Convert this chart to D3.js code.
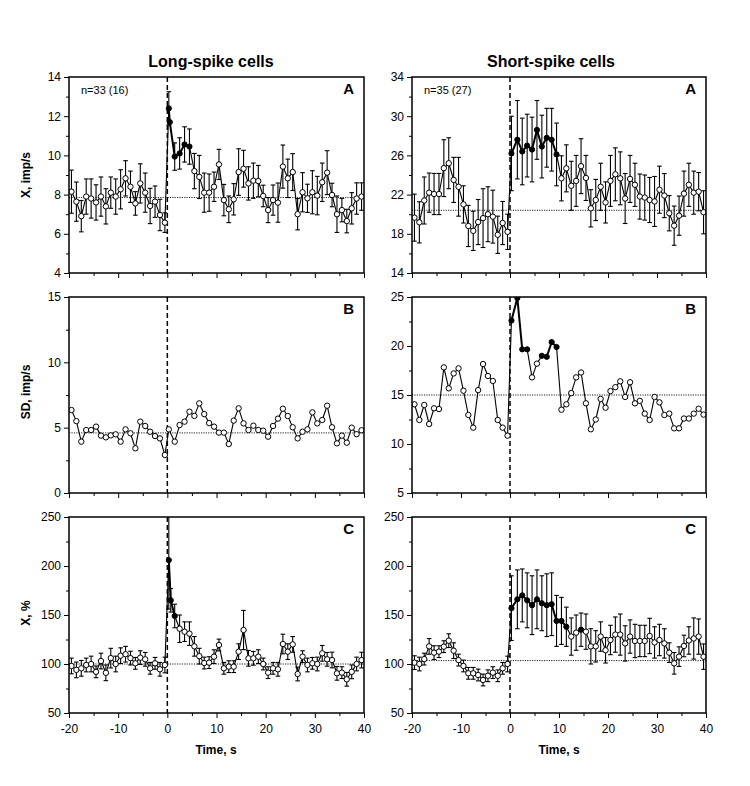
<!DOCTYPE html>
<html>
<head>
<meta charset="utf-8">
<script src="https://cdn.jsdelivr.net/npm/d3@7"></script>
<style>
  body { margin: 0; background: #fff; }
  text { font-family: Arial, "Liberation Sans", sans-serif; fill: #000; }
</style>
</head>
<body>
<svg id="fig" width="750" height="786"></svg>
<script>
// time bins (s) shared by every panel: 20 before the stimulus, 40 after
const timeBins = [-19.5, -18.5, -17.5, -16.5, -15.5, -14.5, -13.5, -12.5, -11.5, -10.5,
  -9.5, -8.5, -7.5, -6.5, -5.5, -4.5, -3.5, -2.5, -1.5, -0.5,
  0.3, 1.5, 2.5, 3.5, 4.5, 5.5, 6.5, 7.5, 8.5, 9.5,
  10.5, 11.5, 12.5, 13.5, 14.5, 15.5, 16.5, 17.5, 18.5, 19.5,
  20.5, 21.5, 22.5, 23.5, 24.5, 25.5, 26.5, 27.5, 28.5, 29.5,
  30.5, 31.5, 32.5, 33.5, 34.5, 35.5, 36.5, 37.5, 38.5, 39.5];

// A, long-spike: mean rate (imp/s) and error
const leftAMean = [8.15, 7.64, 6.9, 7.9, 7.8, 7.6, 7.9, 7.4, 8.1, 7.9,
  8.27, 8.83, 8.4, 7.55, 8.57, 8.1, 7.42, 7.64, 6.96, 6.57,
  12.4, 9.94, 10.1, 10.56, 10.45, 9.2, 8.9, 8.1, 8.1, 8.4,
  9.54, 7.72, 7.25, 7.76, 9.15, 9.32, 8.57, 8.71, 8.69, 7.93,
  7.21, 7.72, 7.59, 9.43, 8.83, 9.15, 7.0, 8.12, 7.81, 8.12,
  7.95, 8.63, 9.12, 7.98, 7.0, 7.21, 6.65, 7.3, 7.8, 7.9];
const leftAErr = [1.1, 1.0, 0.8, 0.9, 1.0, 0.9, 1.0, 0.9, 0.8, 0.9,
  1.0, 0.9, 0.8, 0.6, 1.0, 1.0, 0.9, 0.8, 0.8, 0.5,
  0.85, 0.7, 0.8, 0.9, 0.9, 0.9, 1.1, 1.0, 0.95, 0.75,
  0.77, 0.8, 0.68, 0.8, 1.19, 0.94, 0.85, 0.9, 0.8, 0.55,
  0.64, 0.77, 1.0, 1.1, 0.98, 0.94, 0.8, 1.0, 0.72, 1.1,
  0.98, 0.98, 1.12, 0.6, 0.93, 0.6, 0.6, 0.8, 0.8, 0.7];
const leftAExtra = [{ t: 0.5, v: 11.7, e: 0 }];
const leftAFilled = [0.3, 0.5, 1.5, 2.5, 3.5, 4.5];

// A, short-spike
const rightAMean = [19.65, 19.17, 21.4, 22.2, 22.06, 22.06, 24.7, 25.2, 23.5, 22.8,
  21.0, 18.8, 18.3, 19.2, 19.6, 20.0, 19.75, 17.9, 19.1, 18.2,
  26.2, 27.6, 26.4, 27.0, 26.6, 28.6, 26.9, 27.8, 27.6, 26.1,
  23.66, 24.68, 22.9, 23.4, 24.9, 23.7, 20.6, 21.45, 22.8, 21.2,
  23.4, 24.07, 23.66, 21.6, 23.6, 23.0, 21.8, 21.7, 21.45, 21.3,
  22.5, 21.9, 20.1, 18.83, 19.85, 22.1, 23.0, 22.2, 22.3, 20.2];
const rightAErr = [2.4, 2.1, 2.4, 2.0, 2.1, 2.1, 2.9, 2.6, 2.3, 3.0,
  1.9, 2.1, 2.0, 2.3, 3.0, 2.8, 2.7, 1.9, 2.2, 1.8,
  3.8, 4.0, 3.4, 3.2, 3.3, 3.0, 3.2, 3.0, 3.2, 3.2,
  2.3, 2.4, 2.5, 2.6, 2.8, 2.3, 1.9, 2.1, 2.4, 2.1,
  2.6, 2.7, 2.7, 2.55, 2.4, 2.2, 2.3, 2.3, 2.3, 2.55,
  2.4, 2.25, 1.8, 2.0, 2.0, 2.3, 2.2, 2.2, 1.95, 2.2];
const rightAFilled = [0.3, 1.5, 2.5, 3.5, 4.5, 5.5, 6.5, 7.5, 8.5, 9.5];

// B, long-spike: SD (imp/s)
const leftBMean = [6.35, 5.5, 3.93, 4.82, 4.82, 5.08, 4.39, 4.26, 4.41, 4.49,
  3.93, 4.87, 4.57, 3.42, 5.46, 5.13, 4.69, 4.36, 4.18, 2.91,
  4.87, 3.93, 5.2, 5.46, 6.22, 5.9, 6.86, 6.04, 5.35, 5.08,
  4.62, 4.62, 3.75, 5.54, 6.48, 5.33, 4.82, 5.15, 4.82, 4.77,
  4.31, 5.13, 5.69, 6.45, 5.89, 5.03, 4.18, 4.69, 4.87, 6.17,
  5.33, 5.59, 6.68, 5.03, 3.8, 4.39, 3.85, 5.0, 4.5, 4.8];

// B, short-spike
const rightBMean = [14.05, 12.45, 13.98, 12.04, 13.64, 13.57, 17.82, 15.68, 17.2, 17.72,
  15.44, 12.96, 11.67, 15.5, 18.16, 16.94, 16.43, 12.45, 11.67, 10.85,
  22.6, 24.9, 19.66, 19.66, 16.8, 18.2, 19.0, 18.9, 20.4, 19.9,
  13.5, 14.05, 15.2, 16.8, 17.3, 14.15, 11.5, 12.5, 14.6, 13.7,
  15.4, 15.8, 16.4, 14.8, 16.3, 14.15, 14.4, 13.1, 12.45, 14.8,
  14.25, 12.96, 13.1, 11.6, 11.6, 12.6, 12.6, 13.1, 13.6, 13.0];
const rightBFilled = [0.3, 1.5, 2.5, 3.5, 6.5, 7.5, 8.5, 9.5];

// C, long-spike: rate as % of baseline
const leftCMean = [98, 94, 95.6, 99, 100, 92, 103, 91, 106, 100,
  108.5, 110, 106, 100.7, 106.5, 104.8, 95.6, 100.7, 94.6, 99,
  206, 149, 136, 133, 131, 118, 108, 101, 101.4, 107.5,
  119.4, 95.6, 97.3, 97.3, 112.6, 134.7, 105.8, 105.8, 107.5, 100,
  91.2, 95.6, 94.6, 120.4, 112.6, 120, 89.8, 107.5, 99, 100.7,
  100, 110.9, 104.8, 104.1, 90.5, 91.2, 84.4, 92, 100, 104];
const leftCErr = [8, 8, 8, 7, 8, 6, 8, 8, 10, 8,
  8, 8, 7, 6, 7, 7, 6, 6, 7, 8,
  50, 12, 14, 10, 12, 10, 8, 6, 6, 7,
  6, 6, 6, 6, 8, 20, 8, 7, 7, 6,
  6, 6, 7, 10, 8, 8, 7, 6, 7, 6,
  7, 8, 7, 8, 7, 6, 7, 7, 7, 8];
const leftCExtra = [{ t: 0.7, v: 165, e: 12 }];
const leftCFilled = [0.3, 0.7, 1.5];

// C, short-spike
const rightCMean = [101.4, 100, 105, 118, 111.6, 112.6, 117.7, 123.8, 113.6, 104,
  98, 90.5, 90.5, 88.8, 83.7, 88, 91.2, 88, 95.6, 100,
  157, 166, 170, 165, 160, 166, 162, 160, 161, 144,
  144, 138, 128, 132, 135, 133, 118, 118, 128, 114,
  124.5, 130, 130, 121, 128, 123.5, 123.5, 123.5, 128.6, 122,
  124.5, 121, 111.6, 100.7, 107.5, 118.4, 124, 126, 128, 107.5];
const rightCErr = [7, 7, 6, 8, 7, 6, 6, 7, 8, 6,
  6, 6, 6, 6, 6, 6, 6, 6, 6, 8,
  33, 30, 27, 28, 30, 30, 28, 32, 32, 26,
  24, 20, 19, 18, 17, 18, 18, 16, 15, 13,
  15, 18, 21, 18, 17, 17, 16, 16, 18, 16,
  16, 15, 10, 11, 10, 11, 14, 21, 18, 13];
const rightCFilled = [0.3, 1.5, 2.5, 3.5, 4.5, 5.5, 6.5, 7.5, 8.5, 9.5, 10.5, 11.5, 14.5];

// axis ticks
const timeMajor = [-20, -10, 0, 10, 20, 30, 40];
const timeMinor = [-15, -5, 5, 15, 25, 35];
const leftATicks = [4, 6, 8, 10, 12, 14];
const rightATicks = [14, 18, 22, 26, 30, 34];
const leftBTicks = [0, 5, 10, 15];
const rightBTicks = [5, 10, 15, 20, 25];
const cTicks = [50, 100, 150, 200, 250];

const baselines = { leftA: 7.85, rightA: 20.4, leftB: 4.6, rightB: 15.0, leftC: 100, rightC: 103.5 };

const colX = [[69, 364], [412, 706]];
const rowY = [[77, 273], [297, 493], [517, 713]];

const panels = [
  { col: 0, row: 0, mean: leftAMean, err: leftAErr, extra: leftAExtra, filled: leftAFilled,
    domain: [4, 14], ticks: leftATicks, minor: 1, base: baselines.leftA, letter: "A", note: "n=33 (16)" },
  { col: 1, row: 0, mean: rightAMean, err: rightAErr, extra: [], filled: rightAFilled,
    domain: [14, 34], ticks: rightATicks, minor: 2, base: baselines.rightA, letter: "A", note: "n=35 (27)" },
  { col: 0, row: 1, mean: leftBMean, err: null, extra: [], filled: [],
    domain: [0, 15], ticks: leftBTicks, minor: 2.5, base: baselines.leftB, letter: "B" },
  { col: 1, row: 1, mean: rightBMean, err: null, extra: [], filled: rightBFilled,
    domain: [5, 25], ticks: rightBTicks, minor: 2.5, base: baselines.rightB, letter: "B" },
  { col: 0, row: 2, mean: leftCMean, err: leftCErr, extra: leftCExtra, filled: leftCFilled,
    domain: [50, 250], ticks: cTicks, minor: 25, base: baselines.leftC, letter: "C" },
  { col: 1, row: 2, mean: rightCMean, err: rightCErr, extra: [], filled: rightCFilled,
    domain: [50, 250], ticks: cTicks, minor: 25, base: baselines.rightC, letter: "C" }
];

const svg = d3.select("#fig");

panels.forEach((p, i) => {
  const [x0, x1] = colX[p.col];
  const [y0, y1] = rowY[p.row];
  const x = d3.scaleLinear().domain([-20, 40]).range([x0, x1]);
  const y = d3.scaleLinear().domain(p.domain).range([y1, y0]);
  const g = svg.append("g");

  svg.append("clipPath").attr("id", "clip" + i)
    .append("rect").attr("x", x0).attr("y", y0)
    .attr("width", x1 - x0).attr("height", y1 - y0);

  // 1) axes (ticks only, frame drawn separately)
  const minorY = d3.range(p.domain[0], p.domain[1] + 1e-6, p.minor)
    .filter(v => !p.ticks.some(t => Math.abs(t - v) < 1e-6));
  g.append("g").attr("transform", `translate(0,${y1})`)
    .call(d3.axisBottom(x).tickValues(timeMinor).tickSize(3).tickFormat(""))
    .call(a => a.select(".domain").remove());
  g.append("g").attr("transform", `translate(0,${y1})`)
    .call(d3.axisBottom(x).tickValues(timeMajor).tickSize(5).tickPadding(6)
      .tickFormat(p.row === 2 ? (d => String(d)) : ""))
    .call(a => a.select(".domain").remove())
    .call(a => a.selectAll("text").attr("font-size", 12));
  g.append("g").attr("transform", `translate(${x0},0)`)
    .call(d3.axisLeft(y).tickValues(minorY).tickSize(3).tickFormat(""))
    .call(a => a.select(".domain").remove());
  g.append("g").attr("transform", `translate(${x0},0)`)
    .call(d3.axisLeft(y).tickValues(p.ticks).tickSize(5).tickPadding(3).tickFormat(d => String(d)))
    .call(a => a.select(".domain").remove())
    .call(a => a.selectAll("text").attr("font-size", 12));
  g.selectAll(".tick line").attr("stroke", "#000").attr("stroke-width", 1);

  // 2) baseline and stimulus line
  g.append("line").attr("x1", x0).attr("x2", x1)
    .attr("y1", y(p.base)).attr("y2", y(p.base))
    .attr("stroke", "#222").attr("stroke-width", 1).attr("stroke-dasharray", "1.2,1.2");
  g.append("line").attr("x1", x(0)).attr("x2", x(0))
    .attr("y1", y0).attr("y2", y1)
    .attr("stroke", "#000").attr("stroke-width", 1.5).attr("stroke-dasharray", "5,3");

  // 3) points
  const pts = timeBins.map((t, k) => ({ t, v: p.mean[k], e: p.err ? p.err[k] : 0 }))
    .concat(p.extra)
    .sort((a, b) => a.t - b.t);
  pts.forEach(d => { d.f = p.filled.includes(d.t); });

  const plot = g.append("g").attr("clip-path", `url(#clip${i})`);

  // error bars
  const eb = plot.selectAll(".eb").data(pts.filter(d => d.e > 0)).enter().append("g");
  eb.append("line")
    .attr("x1", d => x(d.t)).attr("x2", d => x(d.t))
    .attr("y1", d => y(d.v - d.e)).attr("y2", d => y(d.v + d.e))
    .attr("stroke", "#000").attr("stroke-width", 1.1);
  [-1, 1].forEach(s => {
    eb.append("line")
      .attr("x1", d => x(d.t) - 2.3).attr("x2", d => x(d.t) + 2.3)
      .attr("y1", d => y(d.v + s * d.e)).attr("y2", d => y(d.v + s * d.e))
      .attr("stroke", "#000").attr("stroke-width", 1.1);
  });

  // connecting segments, heavier between filled points
  const segs = d3.pairs(pts);
  plot.selectAll(".seg").data(segs).enter().append("line")
    .attr("x1", d => x(d[0].t)).attr("y1", d => y(d[0].v))
    .attr("x2", d => x(d[1].t)).attr("y2", d => y(d[1].v))
    .attr("stroke", "#000")
    .attr("stroke-width", d => (d[0].f && d[1].f) ? 2 : 1.1);

  plot.selectAll(".pt").data(pts).enter().append("circle")
    .attr("cx", d => x(d.t)).attr("cy", d => y(d.v))
    .attr("r", d => d.f ? 2.6 : 2.7)
    .attr("fill", d => d.f ? "#000" : "#fff")
    .attr("stroke", "#000").attr("stroke-width", 1);

  // 4) frame
  g.append("rect").attr("x", x0).attr("y", y0)
    .attr("width", x1 - x0).attr("height", y1 - y0)
    .attr("fill", "none").attr("stroke", "#000").attr("stroke-width", 1.5);

  // 5) labels inside panel
  g.append("text").attr("x", x1 - 10).attr("y", y0 + 17)
    .attr("text-anchor", "end").attr("font-size", 15).attr("font-weight", "bold")
    .text(p.letter);
  if (p.note) {
    g.append("text").attr("x", x0 + 12).attr("y", y0 + 17)
      .attr("font-size", 11).text(p.note);
  }
});

// column titles
svg.append("text").attr("x", 211).attr("y", 67).attr("text-anchor", "middle")
  .attr("font-size", 16).attr("font-weight", "bold").text("Long-spike cells");
svg.append("text").attr("x", 551).attr("y", 67).attr("text-anchor", "middle")
  .attr("font-size", 16).attr("font-weight", "bold").text("Short-spike cells");

// y titles
const yTitles = [["X, imp/s", 175], ["SD, imp/s", 392], ["X, %", 613]];
yTitles.forEach(([t, cy]) => {
  svg.append("text").attr("transform", `translate(30,${cy}) rotate(-90)`)
    .attr("text-anchor", "middle").attr("font-size", 12).attr("font-weight", "bold").text(t);
});

// x titles
[216, 559].forEach(cx => {
  svg.append("text").attr("x", cx).attr("y", 754).attr("text-anchor", "middle")
    .attr("font-size", 12).attr("font-weight", "bold").text("Time, s");
});
</script>
</body>
</html>
